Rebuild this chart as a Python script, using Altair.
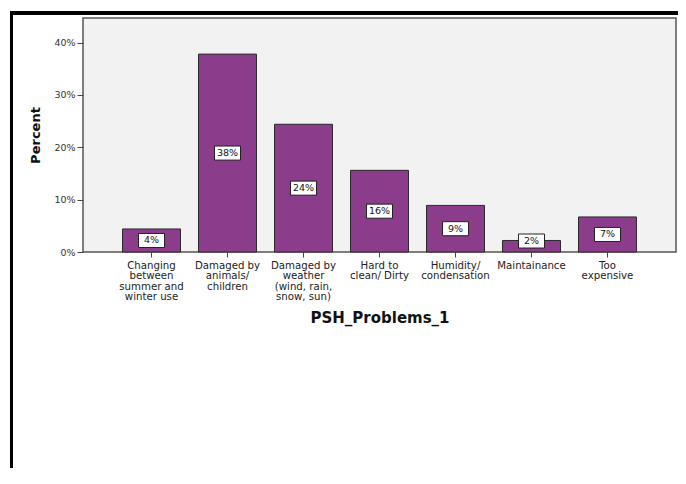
import altair as alt
import pandas as pd

categories = [
    "Changing\nbetween\nsummer and\nwinter use",
    "Damaged by\nanimals/\nchildren",
    "Damaged by\nweather\n(wind, rain,\nsnow, sun)",
    "Hard to\nclean/ Dirty",
    "Humidity/\ncondensation",
    "Maintainance",
    "Too\nexpensive",
]
percents = [4.4, 37.8, 24.4, 15.6, 8.9, 2.2, 6.7]
labels = ["4%", "38%", "24%", "16%", "9%", "2%", "7%"]
y_ticks = [0, 10, 20, 30, 40]

df = pd.DataFrame({"cat": categories, "pct": percents, "lab": labels})

FONT = "DejaVu Sans"
PLOT_W, PLOT_H = 593, 234

x = alt.X(
    "cat:N",
    sort=categories,
    scale=alt.Scale(paddingInner=0.237, paddingOuter=0.52),
    axis=alt.Axis(
        title="PSH_Problems_1",
        titleFont=FONT,
        titleFontSize=15,
        titleFontWeight="bold",
        titleColor="#111111",
        titleY=65,
        titleBaseline="middle",
        labelExpr="split(datum.value, '\\n')",
        labelAngle=0,
        labelFont=FONT,
        labelFontSize=10.2,
        labelLineHeight=10.6,
        labelColor="#222222",
        labelPadding=3,
        labelBaseline="top",
        labelAlign="center",
        tickSize=5,
        tickColor="#444444",
        domain=False,
        grid=False,
    ),
)

y_scale = alt.Scale(domain=[0, 44.7], nice=False)

bars = alt.Chart(df).mark_bar(
    color="#8B3D8C", stroke="#2a2a2a", strokeWidth=1
).encode(
    x=x,
    y=alt.Y(
        "pct:Q",
        scale=y_scale,
        axis=alt.Axis(
            title="Percent",
            titleFont=FONT,
            titleFontSize=13,
            titleFontWeight="bold",
            titleColor="#111111",
            titleX=-48,
            titleY=PLOT_H / 2,
            titleAngle=270,
            titleAlign="center",
            titleBaseline="middle",
            values=y_ticks,
            labelExpr="datum.value + '%'",
            labelFont=FONT,
            labelFontSize=9.5,
            labelColor="#333333",
            labelPadding=2,
            tickSize=6,
            tickColor="#444444",
            domain=False,
            grid=False,
        ),
    ),
)

label_base = alt.Chart(df).transform_calculate(
    mid="max(datum.pct / 2, 2.1)"
)

boxes = label_base.mark_point(
    shape="M-1,-0.54L1,-0.54L1,0.54L-1,0.54Z",
    size=676,
    filled=True,
    fill="white",
    stroke="#222222",
    strokeWidth=1,
    opacity=1,
).encode(
    x=alt.X("cat:N", sort=categories),
    y=alt.Y("mid:Q", scale=y_scale),
)

texts = label_base.mark_text(
    font=FONT, fontSize=9.5, color="#111111", baseline="middle", align="center"
).encode(
    x=alt.X("cat:N", sort=categories),
    y=alt.Y("mid:Q", scale=y_scale),
    text="lab:N",
)

frame = alt.Chart(df).mark_rect(
    fill=None, filled=False, stroke="black", strokeWidth=3, clip=False
).encode(
    x=alt.value(-71.5),
    x2=alt.value(620),
    y=alt.value(-5),
    y2=alt.value(520),
)

chart = (
    alt.layer(frame, bars, boxes, texts)
    .properties(
        width=PLOT_W,
        height=PLOT_H,
        padding={"left": 75, "top": 10, "right": 2, "bottom": 216},
        autosize=alt.AutoSizeParams(type="none"),
        background="white",
    )
    .configure_view(fill="#F2F2F2", stroke="#555555", strokeWidth=1.5)
)

chart.save("out.html", embed_options={"renderer": "svg", "actions": False})
